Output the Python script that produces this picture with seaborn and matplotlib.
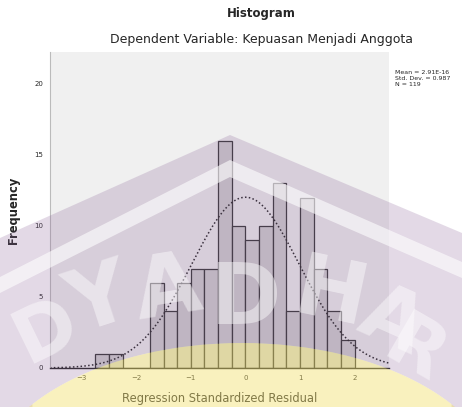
import matplotlib
matplotlib.use('Agg')
import matplotlib.pyplot as plt
from matplotlib.patches import Polygon, Ellipse
import seaborn as sns
import numpy as np

# Bin edges (standardized residual) and counts
bin_edges = [-2.75, -2.5, -2.25, -2.0, -1.75, -1.5, -1.25, -1.0, -0.75, -0.5,
             -0.25, 0.0, 0.25, 0.5, 0.75, 1.0, 1.25, 1.5, 1.75, 2.0]
bin_counts = [1, 1, 0, 0, 6, 4, 6, 7, 7, 16, 10, 9, 10, 13, 4, 12, 7, 4, 2]
x_ticks = [-3, -2, -1, 0, 1, 2]
y_ticks = [0, 5, 10, 15, 20]
resid_mean = 2.91e-16
resid_sd = 0.987
n_obs = 119

bin_width = 0.25
centers = np.array(bin_edges[:-1]) + bin_width / 2

sns.set_style('white')
plt.rcParams['font.family'] = ['DejaVu Sans']

fig = plt.figure(figsize=(4.62, 4.07), dpi=100)
ax = fig.add_axes([50 / 462, 1 - 368 / 407, 339 / 462, 316 / 407])
ax.set_facecolor('#f0f0f0')

sns.histplot(x=centers, weights=bin_counts, bins=bin_edges, ax=ax,
             color='#d0d0d0', alpha=1, edgecolor='#333333', linewidth=0.9)

# normal curve scaled to the histogram
xs = np.linspace(-3.58, 2.63, 300)
dens = n_obs * bin_width / (resid_sd * np.sqrt(2 * np.pi)) * np.exp(-0.5 * ((xs - resid_mean) / resid_sd) ** 2)
sns.lineplot(x=xs, y=dens, ax=ax, color='#222222', linestyle=(0, (1, 1.5)), linewidth=1.1)

ax.set_xlim(-3.58, 2.63)
ax.set_ylim(0, 22.25)
ax.set_xticks(x_ticks)
ax.set_yticks(y_ticks)
ax.tick_params(labelsize=5, length=3, width=0.8, color='#222222', pad=2)
for side in ['top', 'right']:
    ax.spines[side].set_visible(False)
ax.spines['left'].set_color('#bbbbbb')
ax.spines['bottom'].set_color('#222222')
ax.spines['bottom'].set_linewidth(1.0)

ax.set_xlabel('Regression Standardized Residual', fontsize=8.3, labelpad=8)
ax.set_ylabel('Frequency', fontsize=8.3, fontweight='bold', labelpad=10)

fig.text(0.565, 1 - 13 / 407, 'Histogram', ha='center', va='center', fontsize=8.5, fontweight='bold')
fig.text(0.565, 1 - 40 / 407, 'Dependent Variable: Kepuasan Menjadi Anggota', ha='center', va='center', fontsize=9)
fig.text(395 / 462, 1 - 70 / 407,
         'Mean = %.2E\nStd. Dev. = %.3f\nN = %d' % (resid_mean, resid_sd, n_obs),
         ha='left', va='top', fontsize=4.5, linespacing=1.3)

# watermark overlay (pixel coords, y down)
wm = fig.add_axes([0, 0, 1, 1])
wm.set_xlim(0, 462)
wm.set_ylim(407, 0)
wm.axis('off')
wm.patch.set_alpha(0)

ell_c, ell_a, ell_b = (242, 493), 260, 150
t = np.linspace(0, np.pi, 120)
arc_x = ell_c[0] + ell_a * np.cos(t)
arc_y = ell_c[1] - ell_b * np.sin(t)
keep = arc_y <= 407
arc = np.column_stack([arc_x[keep], arc_y[keep]])
outline = np.vstack([[[0, 238], [230, 135], [462, 233], [462, 407]],
                     [[arc[0, 0], 407]], arc, [[arc[-1, 0], 407]], [[0, 407]]])
wm.add_patch(Polygon(outline, closed=True, facecolor='#8a6298', alpha=0.24, edgecolor='none'))

wm.add_patch(Polygon([[0, 277], [230, 160], [462, 262], [462, 278], [230, 177], [0, 293]],
                     closed=True, facecolor='white', alpha=0.6, edgecolor='none'))

letters = [('D', 46, 332, 26, 54), ('Y', 100, 302, 18, 62), ('A', 168, 290, 9, 62),
           ('D', 245, 300, 0, 62), ('H', 330, 296, -12, 62), ('A', 392, 322, -24, 58),
           ('R', 414, 352, -30, 54)]
for ch, lx, ly, rot, size in letters:
    wm.text(lx, ly, ch, fontsize=size, fontweight='bold', color='white', alpha=0.45,
            ha='center', va='center', rotation=rot)

wm.add_patch(Ellipse(ell_c, 2 * ell_a, 2 * ell_b, facecolor='#f2e070', alpha=0.45, edgecolor='none'))

plt.savefig('out.png', dpi=100)
plt.close()
